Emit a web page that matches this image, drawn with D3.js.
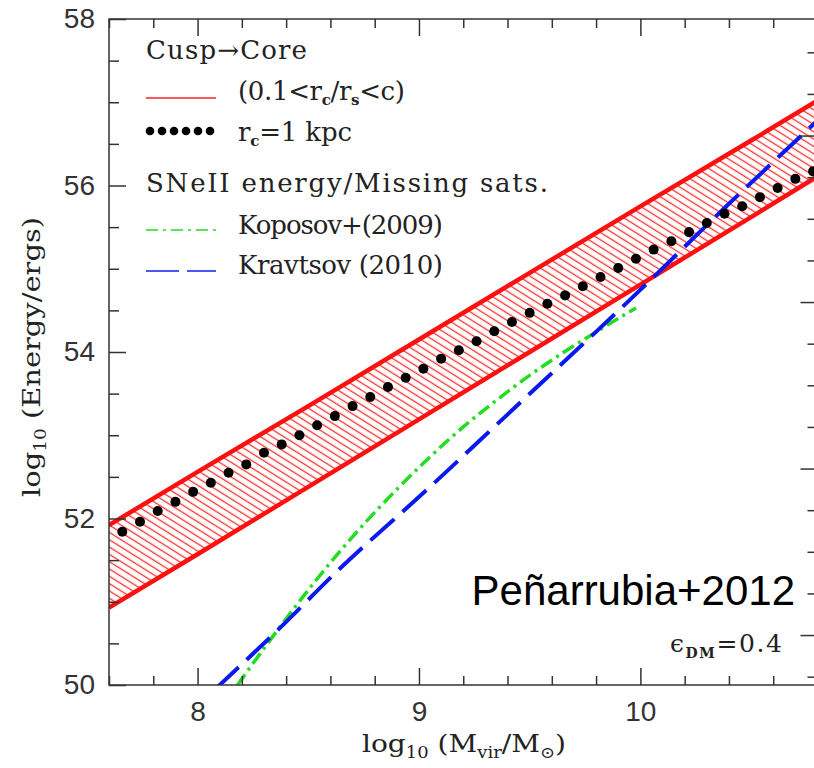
<!DOCTYPE html>
<html>
<head>
<meta charset="utf-8">
<script src="https://cdn.jsdelivr.net/npm/d3@7"></script>
<style>
  body { margin: 0; background: #fff; }
  .ax path { display: none; }
  .ax line { stroke: #333; stroke-width: 1.5; }
  .ax text { font-family: "Liberation Sans", Arial, sans-serif; font-size: 28px; fill: #333; }
  .serif { font-family: "DejaVu Serif", serif; fill: #222; }
</style>
</head>
<body>
<script>
//data
var bandX     = [7.6, 8.0, 8.5, 9.0, 9.5, 10.0, 10.5, 10.8];
var bandUpper = [51.92, 52.56, 53.35, 54.15, 54.95, 55.75, 56.54, 57.02];
var bandLower = [50.93, 51.57, 52.38, 53.19, 54.00, 54.81, 55.62, 56.11];

var dotX = [7.66, 7.74, 7.82, 7.90, 7.98, 8.06, 8.14, 8.22, 8.30, 8.38,
            8.46, 8.54, 8.62, 8.70, 8.78, 8.86, 8.94, 9.02, 9.10, 9.18,
            9.26, 9.34, 9.42, 9.50, 9.58, 9.66, 9.74, 9.82, 9.90, 9.98,
            10.06, 10.14, 10.22, 10.30, 10.38, 10.46, 10.54, 10.62, 10.70, 10.78];
var dotE = [51.84, 51.96, 52.09, 52.20, 52.32, 52.43, 52.55, 52.65, 52.79, 52.89,
            53.00, 53.12, 53.23, 53.35, 53.46, 53.58, 53.69, 53.80, 53.92, 54.02,
            54.13, 54.25, 54.36, 54.47, 54.58, 54.68, 54.79, 54.90, 55.01, 55.12,
            55.23, 55.33, 55.44, 55.55, 55.66, 55.75, 55.86, 55.97, 56.08, 56.17];

var kopX = [8.18, 8.30, 8.45, 8.60, 8.75, 8.90, 9.05, 9.20, 9.35, 9.50, 9.65, 9.80, 9.98];
var kopE = [50.00, 50.44, 50.97, 51.47, 51.93, 52.35, 52.74, 53.10, 53.42, 53.72, 53.99, 54.24, 54.53];

var kraX = [8.08, 8.37, 8.62, 9.05, 9.38, 9.65, 9.95, 10.40, 10.80];
var kraE = [49.95, 50.68, 51.34, 52.38, 53.20, 53.87, 54.62, 55.78, 56.78];

var xMajor = [8, 9, 10];
var yMajor = [50, 52, 54, 56, 58];

var width = 814,
    height = 768;

var svg = d3.select("body")
    .append("svg")
    .attr("width", width)
    .attr("height", height);

var x = d3.scaleLinear().domain([7.6, 10.8]).range([109, 817.5]);
var y = d3.scaleLinear().domain([50, 58]).range([685, 19]);
//right hand axis is offset from the left one
var yR = d3.scaleLinear().domain([49.4, 57.4]).range([685, 19]);

var xMinor = d3.range(7.6, 10.81, 0.2).map(function(v){ return +v.toFixed(1); })
    .filter(function(v){ return xMajor.indexOf(v) < 0; });
var yMinor = d3.range(50, 58.01, 0.5).filter(function(v){ return yMajor.indexOf(v) < 0; });
var yRMajor = [50, 52, 54, 56];
var yRMinor = d3.range(49.5, 57.41, 0.5).filter(function(v){ return yRMajor.indexOf(v) < 0; });

var defs = svg.append("defs");
defs.append("clipPath").attr("id", "plot")
    .append("rect")
    .attr("x", x(7.6)).attr("y", y(58))
    .attr("width", x(10.8) - x(7.6)).attr("height", y(50) - y(58));

var hatch = defs.append("pattern")
    .attr("id", "hatch")
    .attr("patternUnits", "userSpaceOnUse")
    .attr("width", 12).attr("height", 6.2)
    .attr("patternTransform", "rotate(32)");
hatch.append("line")
    .attr("x1", 0).attr("x2", 12).attr("y1", 3).attr("y2", 3)
    .attr("stroke", "#ff3030").attr("stroke-width", 1.3);

var plot = svg.append("g").attr("clip-path", "url(#plot)");

var band = bandX.map(function(v, i){ return {x: v, hi: bandUpper[i], lo: bandLower[i]}; });

plot.append("path")
    .datum(band)
    .attr("fill", "url(#hatch)")
    .attr("d", d3.area()
        .x(function(d){ return x(d.x); })
        .y0(function(d){ return y(d.lo); })
        .y1(function(d){ return y(d.hi); }));

var edge = function(key){
    return d3.line()
        .x(function(d){ return x(d.x); })
        .y(function(d){ return y(d[key]); });
};
["hi", "lo"].forEach(function(k){
    plot.append("path")
        .datum(band)
        .attr("fill", "none")
        .attr("stroke", "#ff1010")
        .attr("stroke-width", 4.5)
        .attr("d", edge(k));
});

var curve = d3.line()
    .curve(d3.curveMonotoneX)
    .x(function(d){ return x(d[0]); })
    .y(function(d){ return y(d[1]); });

plot.append("path")
    .datum(d3.zip(kopX, kopE))
    .attr("fill", "none")
    .attr("stroke", "#22dd22")
    .attr("stroke-width", 3.5)
    .attr("stroke-dasharray", "13,5,3,5")
    .attr("d", curve);

plot.append("path")
    .datum(d3.zip(kraX, kraE))
    .attr("fill", "none")
    .attr("stroke", "#0a1aee")
    .attr("stroke-width", 4)
    .attr("stroke-dasharray", "32,11")
    .attr("d", curve);

plot.selectAll(".dot")
    .data(d3.zip(dotX, dotE))
    .enter()
    .append("circle")
    .attr("class", "dot")
    .attr("cx", function(d){ return x(d[0]); })
    .attr("cy", function(d){ return y(d[1]); })
    .attr("r", 5)
    .attr("fill", "#000");

//frame
svg.append("rect")
    .attr("x", x(7.6)).attr("y", y(58))
    .attr("width", x(10.8) - x(7.6)).attr("height", y(50) - y(58))
    .attr("fill", "none").attr("stroke", "#333").attr("stroke-width", 1.5);

function addAxis(axis, tr){
    svg.append("g").attr("class", "ax").attr("transform", tr).call(axis);
}
addAxis(d3.axisBottom(x).tickValues(xMajor).tickSizeInner(-17).tickSizeOuter(0).tickPadding(16).tickFormat(d3.format("d")), "translate(0," + y(50) + ")");
addAxis(d3.axisBottom(x).tickValues(xMinor).tickSizeInner(-9).tickSizeOuter(0).tickFormat(""), "translate(0," + y(50) + ")");
addAxis(d3.axisTop(x).tickValues(xMajor).tickSizeInner(-17).tickSizeOuter(0).tickFormat(""), "translate(0," + y(58) + ")");
addAxis(d3.axisTop(x).tickValues(xMinor).tickSizeInner(-9).tickSizeOuter(0).tickFormat(""), "translate(0," + y(58) + ")");
addAxis(d3.axisLeft(y).tickValues(yMajor).tickSizeInner(-17).tickSizeOuter(0).tickPadding(14).tickFormat(d3.format("d")), "translate(" + x(7.6) + ",0)");
addAxis(d3.axisLeft(y).tickValues(yMinor).tickSizeInner(-10).tickSizeOuter(0).tickFormat(""), "translate(" + x(7.6) + ",0)");
addAxis(d3.axisRight(yR).tickValues(yRMajor).tickSizeInner(-17).tickSizeOuter(0).tickFormat(""), "translate(" + x(10.8) + ",0)");
addAxis(d3.axisRight(yR).tickValues(yRMinor).tickSizeInner(-10).tickSizeOuter(0).tickFormat(""), "translate(" + x(10.8) + ",0)");

//axis titles
var xt = svg.append("text").attr("class", "serif")
    .attr("x", 464).attr("y", 752)
    .attr("text-anchor", "middle")
    .attr("textLength", 204).attr("lengthAdjust", "spacingAndGlyphs")
    .style("font-size", "25px");
xt.append("tspan").text("log");
xt.append("tspan").attr("dy", 6).style("font-size", "16px").text("10");
xt.append("tspan").attr("dy", -6).text(" (M");
xt.append("tspan").attr("dy", 6).style("font-size", "16px").text("vir");
xt.append("tspan").attr("dy", -6).text("/M");
xt.append("tspan").attr("dy", 6).style("font-size", "16px").text("\u2299");
xt.append("tspan").attr("dy", -6).text(")");

var yt = svg.append("text").attr("class", "serif")
    .attr("transform", "translate(40,357) rotate(-90)")
    .attr("text-anchor", "middle")
    .attr("textLength", 280).attr("lengthAdjust", "spacingAndGlyphs")
    .style("font-size", "25px");
yt.append("tspan").text("log");
yt.append("tspan").attr("dy", 6).style("font-size", "16px").text("10");
yt.append("tspan").attr("dy", -6).text(" (Energy/ergs)");

//legend
var lg = svg.append("g").attr("class", "serif").style("font-size", "26px");

lg.append("text").attr("x", 146).attr("y", 59)
    .attr("textLength", 161).text("Cusp\u2192Core");

lg.append("line").attr("x1", 146).attr("x2", 216).attr("y1", 98).attr("y2", 98)
    .attr("stroke", "#ff2020").attr("stroke-width", 1.5);
var t1 = lg.append("text").attr("x", 238).attr("y", 100).attr("textLength", 167);
t1.append("tspan").text("(0.1<r");
t1.append("tspan").attr("dy", 5).style("font-size", "15px").style("font-weight", "bold").text("c");
t1.append("tspan").attr("dy", -5).text("/r");
t1.append("tspan").attr("dy", 5).style("font-size", "15px").style("font-weight", "bold").text("s");
t1.append("tspan").attr("dy", -5).text("<c)");

lg.selectAll(".ldot")
    .data(d3.range(6))
    .enter()
    .append("circle")
    .attr("cx", function(d){ return 150 + d * 12; })
    .attr("cy", 131)
    .attr("r", 4.3)
    .attr("fill", "#000");
var t2 = lg.append("text").attr("x", 238).attr("y", 141).attr("textLength", 114);
t2.append("tspan").text("r");
t2.append("tspan").attr("dy", 5).style("font-size", "15px").style("font-weight", "bold").text("c");
t2.append("tspan").attr("dy", -5).text("=1 kpc");

lg.append("text").attr("x", 146).attr("y", 192)
    .attr("textLength", 402).text("SNeII energy/Missing sats.");

lg.append("line").attr("x1", 146).attr("x2", 216).attr("y1", 230).attr("y2", 230)
    .attr("stroke", "#22dd22").attr("stroke-width", 1.5).attr("stroke-dasharray", "12,5,3,5");
lg.append("text").attr("x", 238).attr("y", 234)
    .attr("textLength", 205).text("Koposov+(2009)");

lg.append("line").attr("x1", 146).attr("x2", 216).attr("y1", 271).attr("y2", 271)
    .attr("stroke", "#1020ee").attr("stroke-width", 1.5).attr("stroke-dasharray", "33,8");
lg.append("text").attr("x", 238).attr("y", 274)
    .attr("textLength", 205).text("Kravtsov (2010)");

//annotations
svg.append("text")
    .attr("x", 795).attr("y", 605)
    .attr("text-anchor", "end")
    .style("font-family", "'Liberation Sans', Arial, sans-serif")
    .style("font-size", "42px")
    .attr("fill", "#000")
    .text("Pe\u00f1arrubia+2012");

var eps = svg.append("text").attr("class", "serif")
    .attr("x", 670).attr("y", 652)
    .attr("textLength", 112)
    .style("font-size", "25px");
eps.append("tspan").text("\u03f5");
eps.append("tspan").attr("dy", 6).style("font-size", "14px").style("font-weight", "bold").text("DM");
eps.append("tspan").attr("dy", -6).text("=0.4");
</script>
</body>
</html>
